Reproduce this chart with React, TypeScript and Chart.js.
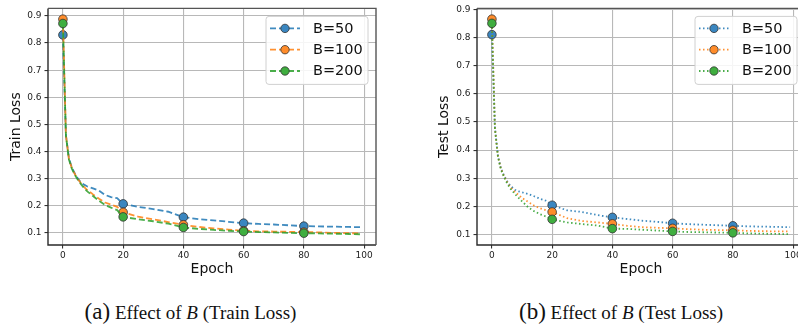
import React, { useEffect, useRef } from "react";
import { Chart, registerables } from "chart.js";

Chart.register(...registerables);

// ---------- data ----------
const epochs = [0, 1, 2, 3, 4, 5, 6, 7, 8, 10, 12, 14, 16, 18, 20, 25, 30, 35, 40, 45, 50, 55, 60, 65, 70, 75, 80, 85, 90, 95, 99];

const trainB50 = [0.830, 0.460, 0.375, 0.340, 0.318, 0.300, 0.285, 0.278, 0.272, 0.264, 0.256, 0.240, 0.232, 0.228, 0.207, 0.196, 0.188, 0.178, 0.158, 0.151, 0.146, 0.141, 0.136, 0.133, 0.131, 0.128, 0.125, 0.124, 0.123, 0.122, 0.121];
const trainB100 = [0.888, 0.460, 0.372, 0.338, 0.316, 0.298, 0.283, 0.270, 0.259, 0.242, 0.226, 0.212, 0.204, 0.196, 0.176, 0.160, 0.150, 0.140, 0.130, 0.122, 0.117, 0.112, 0.108, 0.106, 0.105, 0.104, 0.103, 0.102, 0.100, 0.099, 0.098];
const trainB200 = [0.872, 0.458, 0.370, 0.336, 0.313, 0.295, 0.280, 0.266, 0.254, 0.236, 0.218, 0.203, 0.193, 0.184, 0.159, 0.150, 0.143, 0.134, 0.120, 0.115, 0.111, 0.108, 0.105, 0.103, 0.102, 0.100, 0.099, 0.098, 0.097, 0.096, 0.095];

const testB50 = [0.810, 0.480, 0.380, 0.335, 0.310, 0.290, 0.275, 0.265, 0.256, 0.250, 0.244, 0.236, 0.227, 0.220, 0.204, 0.186, 0.180, 0.169, 0.161, 0.155, 0.149, 0.145, 0.140, 0.137, 0.135, 0.133, 0.131, 0.129, 0.128, 0.127, 0.126];
const testB100 = [0.865, 0.478, 0.378, 0.333, 0.308, 0.288, 0.270, 0.258, 0.248, 0.230, 0.216, 0.203, 0.193, 0.186, 0.180, 0.158, 0.148, 0.143, 0.138, 0.131, 0.126, 0.124, 0.122, 0.119, 0.117, 0.116, 0.115, 0.113, 0.112, 0.111, 0.111];
const testB200 = [0.850, 0.476, 0.376, 0.331, 0.305, 0.283, 0.265, 0.252, 0.240, 0.218, 0.197, 0.183, 0.172, 0.164, 0.154, 0.143, 0.137, 0.132, 0.121, 0.120, 0.117, 0.114, 0.111, 0.109, 0.108, 0.107, 0.106, 0.104, 0.103, 0.102, 0.101];

const seriesLabels = ["B=50", "B=100", "B=200"];
const markerEpochs = [0, 20, 40, 60, 80];
const xTickValues = [0, 20, 40, 60, 80, 100];
const yTickValues = [0.1, 0.2, 0.3, 0.4, 0.5, 0.6, 0.7, 0.8, 0.9];

// ---------- styles ----------
const lineColors = ["rgba(31,119,180,0.85)", "rgba(255,127,14,0.85)", "rgba(44,160,44,0.85)"];
const markerColors = ["#3a86c0", "#ff8c2a", "#3fae3f"];
const FONT = "'DejaVu Sans', sans-serif";

const spinesPlugin = {
  id: "spines",
  afterDatasetsDraw(chart: any) {
    const { ctx, chartArea: a } = chart;
    ctx.save();
    ctx.lineWidth = 1.4;
    ctx.strokeStyle = "#2a2a2a";
    ctx.beginPath();
    ctx.moveTo(a.left, a.top);
    ctx.lineTo(a.left, a.bottom);
    ctx.lineTo(a.right, a.bottom);
    ctx.stroke();
    ctx.strokeStyle = "#555";
    ctx.beginPath();
    ctx.moveTo(a.left, a.top);
    ctx.lineTo(a.right, a.top);
    ctx.lineTo(a.right, a.bottom);
    ctx.stroke();
    ctx.restore();
  },
};

const legendPlugin = {
  id: "mplLegend",
  afterDraw(chart: any) {
    const { ctx, chartArea: a } = chart;
    const boxW = 102;
    const boxH = 68;
    const x0 = a.right - 8 - boxW;
    const y0 = a.top + 8;
    ctx.save();
    ctx.beginPath();
    const r = 3;
    ctx.moveTo(x0 + r, y0);
    ctx.lineTo(x0 + boxW - r, y0);
    ctx.arcTo(x0 + boxW, y0, x0 + boxW, y0 + r, r);
    ctx.lineTo(x0 + boxW, y0 + boxH - r);
    ctx.arcTo(x0 + boxW, y0 + boxH, x0 + boxW - r, y0 + boxH, r);
    ctx.lineTo(x0 + r, y0 + boxH);
    ctx.arcTo(x0, y0 + boxH, x0, y0 + boxH - r, r);
    ctx.lineTo(x0, y0 + r);
    ctx.arcTo(x0, y0, x0 + r, y0, r);
    ctx.closePath();
    ctx.fillStyle = "rgba(255,255,255,0.85)";
    ctx.fill();
    ctx.strokeStyle = "#d0d0d0";
    ctx.lineWidth = 1;
    ctx.stroke();
    chart.data.datasets.forEach((ds: any, i: number) => {
      const cy = y0 + 12 + i * 21.3;
      ctx.setLineDash(ds.borderDash || []);
      ctx.strokeStyle = ds.borderColor;
      ctx.lineWidth = ds.borderWidth;
      ctx.beginPath();
      ctx.moveTo(x0 + 4, cy);
      ctx.lineTo(x0 + 34, cy);
      ctx.stroke();
      ctx.setLineDash([]);
      ctx.beginPath();
      ctx.arc(x0 + 19, cy, 4.2, 0, Math.PI * 2);
      ctx.fillStyle = ds.pointBackgroundColor;
      ctx.fill();
      ctx.strokeStyle = "#333";
      ctx.lineWidth = 0.8;
      ctx.stroke();
      ctx.fillStyle = "#111";
      ctx.font = `14.5px ${FONT}`;
      ctx.textBaseline = "middle";
      ctx.textAlign = "left";
      ctx.fillText(ds.label, x0 + 47, cy + 0.5);
    });
    ctx.restore();
  },
};

type PanelProps = {
  series: number[][];
  yLabel: string;
  dash: number[];
  width: number;
  height: number;
  areaLeft: number;
  padRight: number;
  yTitlePad: number;
  yMin: number;
  yMax: number;
};

function Panel(p: PanelProps) {
  const ref = useRef<HTMLCanvasElement>(null);
  useEffect(() => {
    if (!ref.current) return;
    const datasets = p.series.map((vals, i) => ({
      label: seriesLabels[i],
      data: epochs.map((e, j) => ({ x: e, y: vals[j] })),
      borderColor: lineColors[i],
      backgroundColor: lineColors[i],
      borderWidth: 1.8,
      borderDash: p.dash,
      pointBackgroundColor: markerColors[i],
      pointBorderColor: "#333",
      pointBorderWidth: 0.8,
      pointRadius: (ctx: any) => (ctx.raw && markerEpochs.includes(ctx.raw.x) ? 4.3 : 0),
      pointHoverRadius: 0,
      tension: 0,
      order: 3 - i,
    }));
    const chart = new Chart(ref.current, {
      type: "line",
      data: { datasets },
      options: {
        animation: false,
        responsive: false,
        devicePixelRatio: 1,
        events: [],
        layout: { padding: { top: 1, right: p.padRight, left: 0, bottom: 0 } },
        plugins: { legend: { display: false }, tooltip: { enabled: false } },
        scales: {
          x: {
            type: "linear",
            min: -4.95,
            max: 103.95,
            afterFit: (s: any) => { s.height = p.height - 245; },
            afterBuildTicks: (s: any) => { s.ticks = xTickValues.map((v) => ({ value: v })); },
            ticks: {
              autoSkip: false,
              maxRotation: 0,
              padding: 2,
              color: "#222",
              font: { family: FONT, size: 9 },
              callback: (v: any) => String(v),
            },
            grid: { color: "#b8b8b8", lineWidth: 1.1, tickColor: "#333", tickLength: 3.5, drawTicks: true },
            border: { display: false },
            title: { display: true, text: "Epoch", color: "#111", font: { family: FONT, size: 14 }, padding: { top: 0, bottom: 4 } },
          },
          y: {
            type: "linear",
            min: p.yMin,
            max: p.yMax,
            afterFit: (s: any) => { s.width = p.areaLeft; },
            afterBuildTicks: (s: any) => { s.ticks = yTickValues.map((v) => ({ value: v })); },
            ticks: {
              autoSkip: false,
              padding: 3,
              color: "#222",
              font: { family: FONT, size: 9 },
              callback: (v: any) => Number(v).toFixed(1),
            },
            grid: { color: "#b8b8b8", lineWidth: 1.1, tickColor: "#333", tickLength: 3.5, drawTicks: true },
            border: { display: false },
            title: { display: true, text: p.yLabel, color: "#111", font: { family: FONT, size: 14 }, padding: { top: p.yTitlePad, bottom: 0 } },
          },
        },
      },
      plugins: [spinesPlugin, legendPlugin],
    } as any);
    return () => chart.destroy();
  }, []);
  return <canvas ref={ref} width={p.width} height={p.height} style={{ width: p.width, height: p.height, display: "block" }} />;
}

const captionStyle: React.CSSProperties = {
  position: "absolute",
  top: 300,
  textAlign: "center",
  fontFamily: "'Liberation Serif', 'Times New Roman', serif",
  fontSize: 19,
  lineHeight: "24px",
  color: "#111",
  whiteSpace: "nowrap",
};

export default function App() {
  return (
    <div style={{ position: "fixed", left: 0, top: 0, width: 798, height: 331, overflow: "hidden", background: "#fff" }}>
      <div style={{ position: "absolute", left: 0, top: 0 }}>
        <Panel series={[trainB50, trainB100, trainB200]} yLabel="Train Loss" dash={[6, 3]} width={400} height={282}
          areaLeft={48} padRight={24} yTitlePad={7.6} yMin={0.0554} yMax={0.9277} />
      </div>
      <div style={{ position: "absolute", left: 400, top: 0 }}>
        <Panel series={[testB50, testB100, testB200]} yLabel="Test Loss" dash={[1.5, 2.5]} width={420} height={282}
          areaLeft={77} padRight={15} yTitlePad={35.6} yMin={0.0628} yMax={0.9032} />
      </div>
      <div style={{ ...captionStyle, left: 0, width: 381 }}>
        <span style={{ fontSize: 23 }}>(a)</span> Effect of <i>B</i> (Train Loss)
      </div>
      <div style={{ ...captionStyle, left: 421, width: 400 }}>
        <span style={{ fontSize: 23 }}>(b)</span> Effect of <i>B</i> (Test Loss)
      </div>
    </div>
  );
}
